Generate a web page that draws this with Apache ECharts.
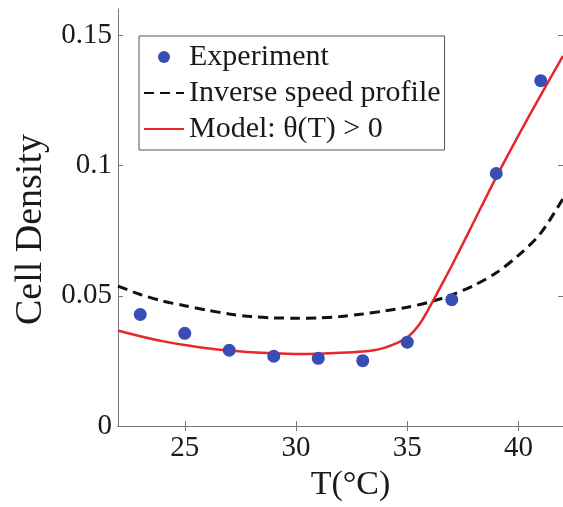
<!DOCTYPE html>
<html>
<head>
<meta charset="utf-8">
<script src="https://cdn.jsdelivr.net/npm/echarts@6/dist/echarts.min.js"></script>
<style>
html,body{margin:0;padding:0;background:#fff;}
#chart{width:563px;height:507px;}
</style>
</head>
<body>
<div id="chart"></div>
<script>
// Experiment data
var expT = [23, 25, 27, 29, 31, 33, 35, 37, 39, 41];
var expVal = [0.0428, 0.0356, 0.0291, 0.0268, 0.0260, 0.0251, 0.0322, 0.0485, 0.0969, 0.1325];
// Inverse speed profile (dashed)
var invT = [22, 23, 24, 25, 26, 27, 28, 29, 30, 31, 32, 33, 34, 35, 36, 37, 38, 39, 40, 41, 42];
var invVal = [0.0537, 0.0505, 0.0480, 0.0462, 0.0445, 0.0430, 0.0420, 0.0415, 0.0414, 0.0415, 0.0420, 0.0430, 0.0442, 0.0456, 0.0476, 0.0503, 0.0540, 0.0588, 0.0655, 0.0740, 0.0873];
// Model (red)
var modT = [22, 23, 24, 25, 26, 27, 28, 29, 30, 31, 32, 33, 33.5, 34, 34.5, 35, 35.5, 36, 36.5, 37, 38, 39, 40, 41, 42];
var modVal = [0.0367, 0.0345, 0.0326, 0.0311, 0.0299, 0.0290, 0.0283, 0.0279, 0.0277, 0.0278, 0.0281, 0.0286, 0.0291, 0.0301, 0.0317, 0.0340, 0.0385, 0.0455, 0.0535, 0.0615, 0.0785, 0.0955, 0.1115, 0.1270, 0.1420];
// Axis ticks
var xTicks = [25, 30, 35, 40];
var yTicks = [0, 0.05, 0.1, 0.15];
var xName = 'T(°C)';
var yName = 'Cell Density';
var names = ['Experiment', 'Inverse speed profile', 'Model: θ(T) > 0'];

function pairs(xs, ys){ return xs.map(function(x,i){ return [x, ys[i]]; }); }

var font = 'Liberation Serif';
var axisColor = '#777';
var textColor = '#1a1a1a';

var chart = echarts.init(document.getElementById('chart'), null, {renderer:'canvas'});
var baseX = {
  type: 'value', min: 22, max: 42,
  axisLine: {show: true, lineStyle: {color: axisColor, width: 1}},
  axisTick: {show: true, inside: true, length: 5, customValues: xTicks, lineStyle: {color: axisColor}},
  splitLine: {show: false}
};
var baseY = {
  type: 'value', min: 0, max: 0.16,
  axisLine: {show: true, lineStyle: {color: axisColor, width: 1}},
  axisTick: {show: true, inside: true, length: 5, customValues: yTicks, lineStyle: {color: axisColor}},
  splitLine: {show: false}
};
var option = {
  animation: false,
  backgroundColor: '#fff',
  grid: {left: 118, right: -2, top: 9, bottom: 73, containLabel: false},
  legend: {
    orient: 'vertical', left: 139, top: 36,
    itemWidth: 40, itemHeight: 12, itemGap: 6,
    padding: [6, 4, 6, 4],
    borderColor: '#555', borderWidth: 1, backgroundColor: '#fff',
    textStyle: {fontFamily: font, fontSize: 30, color: textColor},
    data: [
      {name: names[0]},
      {name: names[1], itemStyle: {opacity: 0}},
      {name: names[2], itemStyle: {opacity: 0}}
    ]
  },
  xAxis: [
    Object.assign({}, baseX, {
      position: 'bottom',
      axisLabel: {show: true, customValues: xTicks, margin: 8, fontFamily: font, fontSize: 29, color: textColor},
      name: xName, nameLocation: 'middle', nameGap: 36,
      nameTextStyle: {fontFamily: font, fontSize: 34, color: textColor, padding: [0, 0, 0, 20]}
    }),
    Object.assign({}, baseX, {position: 'top', axisLabel: {show: false}})
  ],
  yAxis: [
    Object.assign({}, baseY, {
      position: 'left',
      axisLabel: {show: true, customValues: yTicks, margin: 6, fontFamily: font, fontSize: 29, color: textColor,
        formatter: function(v){ return String(v); }},
      name: yName, nameLocation: 'middle', nameGap: 56,
      nameTextStyle: {fontFamily: font, fontSize: 38, color: textColor, padding: [0, 24, 0, 0]}
    }),
    Object.assign({}, baseY, {position: 'right', axisLabel: {show: false}})
  ],
  series: [
    {
      name: names[0], type: 'scatter', symbol: 'circle', symbolSize: 13,
      itemStyle: {color: '#3a4db4', opacity: 1},
      data: pairs(expT, expVal), z: 5
    },
    {
      name: names[1], type: 'line', symbol: 'none', smooth: 0.3,
      lineStyle: {color: '#111', width: 3, type: [10, 6]},
      itemStyle: {color: '#111'},
      data: pairs(invT, invVal), z: 3
    },
    {
      name: names[2], type: 'line', symbol: 'none', smooth: 0.3,
      lineStyle: {color: '#e8262b', width: 2.5},
      itemStyle: {color: '#e8262b'},
      data: pairs(modT, modVal), z: 4
    }
  ]
};
chart.setOption(option);
</script>
</body>
</html>
